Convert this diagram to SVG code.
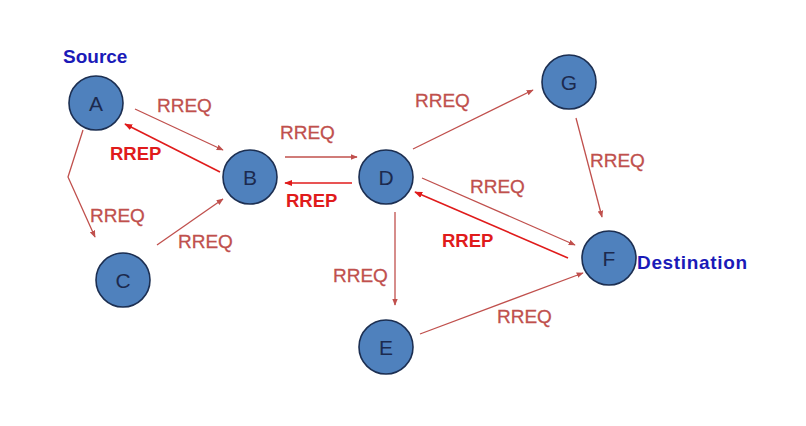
<svg xmlns="http://www.w3.org/2000/svg" width="806" height="426" viewBox="0 0 806 426">
<style>
.node circle{fill:#4f81bd;stroke:#1c2f52;stroke-width:1.6}
.node text{font-family:"Liberation Sans",Arial,sans-serif;font-size:21px;fill:#1c2a4e;text-anchor:middle}
.req{stroke:#c0504d;stroke-width:1.3;fill:none}
.rep{stroke:#e01b1b;stroke-width:1.6;fill:none}
.lq{font-family:"Liberation Sans",Arial,sans-serif;font-size:19px;fill:#c0504d;stroke:#c0504d;stroke-width:0.3}
.lp{font-family:"Liberation Sans",Arial,sans-serif;font-size:18.5px;font-weight:bold;fill:#e01b1b}
.lb{font-family:"Liberation Sans",Arial,sans-serif;font-size:19px;font-weight:bold;fill:#1a1ab8}
</style>
<defs>
<marker id="aq" viewBox="0 0 10 10" refX="9" refY="5" markerWidth="7" markerHeight="7" orient="auto" markerUnits="userSpaceOnUse"><path d="M0,1 L10,5 L0,9 z" fill="#c0504d"/></marker>
<marker id="ap" viewBox="0 0 10 10" refX="9" refY="5" markerWidth="8" markerHeight="8" orient="auto" markerUnits="userSpaceOnUse"><path d="M0,1 L10,5 L0,9 z" fill="#e01b1b"/></marker>
</defs>
<rect width="806" height="426" fill="#ffffff"/>
<g id="connectors">
<line class="req" x1="135" y1="109" x2="223" y2="150" marker-end="url(#aq)"/>
<line class="rep" x1="220" y1="172" x2="125" y2="124" marker-end="url(#ap)"/>
<polyline class="req" points="83,130 68,177 95,237" marker-end="url(#aq)"/>
<line class="req" x1="157" y1="245" x2="223" y2="199" marker-end="url(#aq)"/>
<line class="req" x1="285" y1="157" x2="357" y2="157" marker-end="url(#aq)"/>
<line class="rep" x1="352" y1="183" x2="285" y2="183" marker-end="url(#ap)"/>
<line class="req" x1="413" y1="149" x2="533" y2="90" marker-end="url(#aq)"/>
<line class="req" x1="576" y1="118" x2="602" y2="217" marker-end="url(#aq)"/>
<line class="req" x1="422" y1="178" x2="575" y2="245" marker-end="url(#aq)"/>
<line class="rep" x1="568" y1="258" x2="415" y2="192" marker-end="url(#ap)"/>
<line class="req" x1="395" y1="212" x2="395" y2="305" marker-end="url(#aq)"/>
<line class="req" x1="420" y1="334" x2="583" y2="273" marker-end="url(#aq)"/>
</g>
<g id="labels">
<text class="lq" x="157" y="112">RREQ</text>
<text class="lp" x="110" y="160">RREP</text>
<text class="lq" x="90" y="222">RREQ</text>
<text class="lq" x="178" y="248">RREQ</text>
<text class="lq" x="280" y="139">RREQ</text>
<text class="lp" x="286" y="207">RREP</text>
<text class="lq" x="415" y="107">RREQ</text>
<text class="lq" x="590" y="167">RREQ</text>
<text class="lq" x="470" y="193">RREQ</text>
<text class="lp" x="442" y="247">RREP</text>
<text class="lq" x="333" y="282">RREQ</text>
<text class="lq" x="497" y="323">RREQ</text>
<text class="lb" x="63" y="63">Source</text>
<text class="lb" x="637" y="269" textLength="110">Destination</text>
</g>
<g id="node-A" class="node"><circle cx="96" cy="103" r="27"/><text x="96" y="111">A</text></g>
<g id="node-B" class="node"><circle cx="250" cy="177" r="27"/><text x="250" y="185">B</text></g>
<g id="node-C" class="node"><circle cx="123" cy="280" r="27"/><text x="123" y="288">C</text></g>
<g id="node-D" class="node"><circle cx="386" cy="177" r="27"/><text x="386" y="185">D</text></g>
<g id="node-E" class="node"><circle cx="386" cy="347" r="27"/><text x="386" y="355">E</text></g>
<g id="node-F" class="node"><circle cx="609" cy="258" r="27"/><text x="609" y="266">F</text></g>
<g id="node-G" class="node"><circle cx="569" cy="82" r="27"/><text x="569" y="90">G</text></g>
</svg>
